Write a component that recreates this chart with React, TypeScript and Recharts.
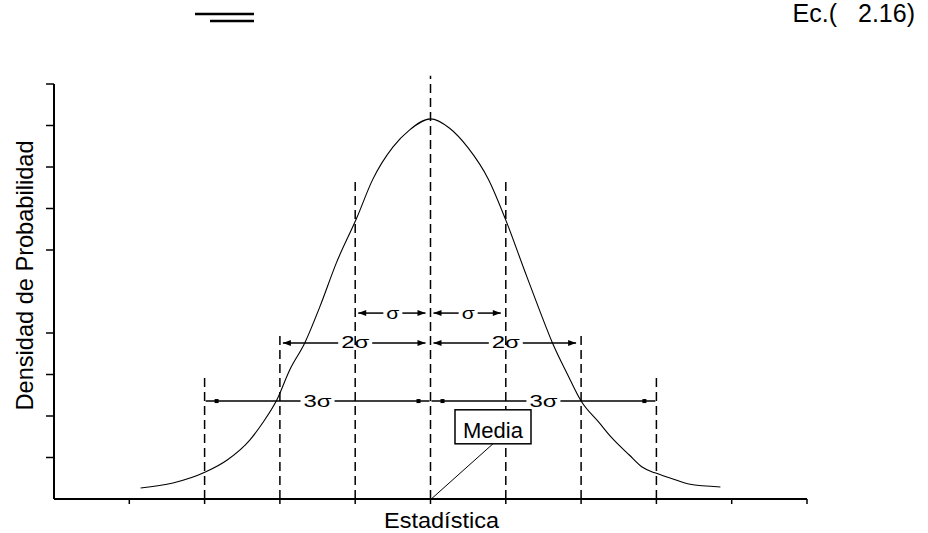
import React from 'react';
import { ComposedChart, Line, XAxis, YAxis, ReferenceLine } from 'recharts';

// ---- data (x in units of sigma from the mean, y = relative density) ----
const curveX = [-3.85, -3.42, -2.99, -2.7, -2.4, -2.23, -2.04, -1.87, -1.67, -1.47, -1.25, -0.98, -0.77, -0.5, -0.28, 0, 0.25, 0.5, 0.77, 1.0, 1.25, 1.45, 1.62, 1.82, 2.0, 2.24, 2.4, 2.64, 2.81, 2.98, 3.21, 3.43, 3.85];
const curveY = [2.65, 3.86, 6.5, 9.4, 14.2, 18.3, 23.9, 31.1, 37.6, 46.3, 56.9, 67.7, 76.9, 84.8, 88.9, 91.6, 89.4, 84.6, 77.0, 67.2, 55.0, 45.4, 37.6, 30.0, 23.6, 18.4, 14.9, 10.6, 7.7, 6.3, 4.9, 3.6, 2.9];

const xTicks = [-4, -3, -2, -1, 0, 1, 2, 3, 4, 5];
const yTicks = [10, 20, 30, 40, 60, 70, 80, 90, 100];

const guideX = [-3, -2, -1, 0, 1, 2, 3];
const guideTop = [29.2, 39.8, 76.4, 102, 76.4, 39.8, 29.2];

const spanLabels = ['σ', 'σ', '2σ', '2σ', '3σ', '3σ'];
const spanFrom = [-1, 0, -2, 0, -3, 0];
const spanTo = [0, 1, 0, 2, 0, 3];
const spanLevel = [44.8, 44.8, 37.6, 37.6, 23.6, 23.6];
const spanEnd = ['arrow', 'arrow', 'arrow', 'arrow', 'dot', 'dot'];

const meanLabel = 'Media';
const meanLeaderX = [0.01, 0.83];
const meanLeaderY = [0, 13.3];

const xTitle = 'Estadística';
const yTitle = 'Densidad de Probabilidad';
const eqLabel = 'Ec.(';
const eqNumber = '2.16)';

const curveData = curveX.map((x, i) => ({ x, y: curveY[i] }));

const FONT = '"Liberation Sans", Arial, Helvetica, sans-serif';

const emptyTick = () => <g />;

const makeSpanShape = (label: string, end: string) => (p: any) => {
  const { x1, y1, x2 } = p;
  const y = y1;
  const isDot = end === 'dot';
  const a = x1 + (isDot ? 1 : 3);
  const b = x2 - (isDot ? 1 : 5);
  const mid = (x1 + x2) / 2;
  const tw = label.length === 1 ? 13 : 28;
  const g1 = mid - tw / 2 - 3;
  const g2 = mid + tw / 2 + 3;
  const ah = 8;
  const aw = 3;
  return (
    <g>
      <line x1={a} y1={y} x2={g1} y2={y} stroke="#000" strokeWidth={1.5} />
      <line x1={g2} y1={y} x2={b} y2={y} stroke="#000" strokeWidth={1.5} />
      {isDot ? (
        <g>
          <rect x={a + 9} y={y - 2} width={4} height={4} fill="#000" />
          <rect x={b - 13} y={y - 2} width={4} height={4} fill="#000" />
        </g>
      ) : (
        <g>
          <polygon points={`${a},${y} ${a + ah},${y - aw} ${a + ah},${y + aw}`} fill="#000" />
          <polygon points={`${b},${y} ${b - ah},${y - aw} ${b - ah},${y + aw}`} fill="#000" />
        </g>
      )}
      <text
        x={mid}
        y={y + 5.5}
        textAnchor="middle"
        fontSize={16}
        fontFamily={FONT}
        textLength={tw}
        lengthAdjust="spacingAndGlyphs"
        fill="#000"
      >
        {label}
      </text>
    </g>
  );
};

const meanShape = (p: any) => {
  const { x1, y1, x2, y2 } = p;
  const bw = 76;
  const bh = 34;
  return (
    <g>
      <line x1={x1} y1={y1} x2={x2} y2={y2} stroke="#000" strokeWidth={1} />
      <rect x={x2 - bw / 2} y={y2 - bh} width={bw} height={bh} fill="#fff" stroke="#000" strokeWidth={1.5} />
      <text
        x={x2}
        y={y2 - 6}
        textAnchor="middle"
        fontSize={22}
        fontFamily={FONT}
        textLength={60}
        lengthAdjust="spacingAndGlyphs"
        fill="#000"
      >
        {meanLabel}
      </text>
    </g>
  );
};

export default function App() {
  return (
    <div style={{ position: 'absolute', left: 0, top: 0, width: 928, height: 533, background: '#fff' }}>
      <ComposedChart
        width={928}
        height={533}
        data={curveData}
        margin={{ top: 84, right: 121, bottom: 0, left: 0 }}
      >
        <XAxis
          dataKey="x"
          type="number"
          domain={[-5, 5]}
          ticks={xTicks}
          tick={emptyTick}
          tickSize={5}
          height={34}
          axisLine={{ stroke: '#000', strokeWidth: 2 }}
          tickLine={{ stroke: '#000', strokeWidth: 1.5 }}
          label={{
            content: (props: any) => {
              const vb = props.viewBox || {};
              return (
                <text
                  x={vb.x + vb.width / 2 + 11}
                  y={vb.y + 29}
                  textAnchor="middle"
                  fontSize={22}
                  fontFamily={FONT}
                  textLength={115}
                  lengthAdjust="spacingAndGlyphs"
                  fill="#000"
                >
                  {xTitle}
                </text>
              );
            },
          }}
        />
        <YAxis
          type="number"
          domain={[0, 100]}
          ticks={yTicks}
          tick={emptyTick}
          tickSize={8}
          width={54}
          axisLine={{ stroke: '#000', strokeWidth: 2 }}
          tickLine={{ stroke: '#000', strokeWidth: 1.5 }}
          label={{
            content: (props: any) => {
              const vb = props.viewBox || {};
              const cx = vb.x + 33;
              const cy = vb.y + vb.height / 2 - 16;
              return (
                <text
                  x={cx}
                  y={cy}
                  transform={`rotate(-90 ${cx} ${cy})`}
                  textAnchor="middle"
                  fontSize={24}
                  fontFamily={FONT}
                  textLength={270}
                  lengthAdjust="spacingAndGlyphs"
                  fill="#000"
                >
                  {yTitle}
                </text>
              );
            },
          }}
        />
        {guideX.map((gx, i) => (
          <ReferenceLine
            key={`g${i}`}
            segment={[
              { x: gx, y: 0 },
              { x: gx, y: guideTop[i] },
            ]}
            ifOverflow="visible"
            stroke="#000"
            strokeWidth={1.5}
            strokeDasharray="9 5"
          />
        ))}
        <Line
          type="monotone"
          dataKey="y"
          stroke="#000"
          strokeWidth={1.1}
          dot={false}
          isAnimationActive={false}
        />
        {spanLabels.map((lab, i) => (
          <ReferenceLine
            key={`s${i}`}
            segment={[
              { x: spanFrom[i], y: spanLevel[i] },
              { x: spanTo[i], y: spanLevel[i] },
            ]}
            ifOverflow="visible"
            stroke="#000"
            shape={makeSpanShape(lab, spanEnd[i])}
          />
        ))}
        <ReferenceLine
          segment={[
            { x: meanLeaderX[0], y: meanLeaderY[0] },
            { x: meanLeaderX[1], y: meanLeaderY[1] },
          ]}
          ifOverflow="visible"
          stroke="#000"
          shape={meanShape}
        />
      </ComposedChart>
      <svg
        width={928}
        height={533}
        style={{ position: 'absolute', left: 0, top: 0, pointerEvents: 'none' }}
      >
        <line x1={195} y1={14} x2={254} y2={14} stroke="#000" strokeWidth={2.3} />
        <line x1={210} y1={21} x2={254} y2={21} stroke="#000" strokeWidth={2.3} />
        <text x={837} y={22} textAnchor="end" fontSize={25} fontFamily={FONT} fill="#000">
          {eqLabel}
        </text>
        <text x={915} y={22} textAnchor="end" fontSize={25} fontFamily={FONT} fill="#000">
          {eqNumber}
        </text>
      </svg>
    </div>
  );
}
